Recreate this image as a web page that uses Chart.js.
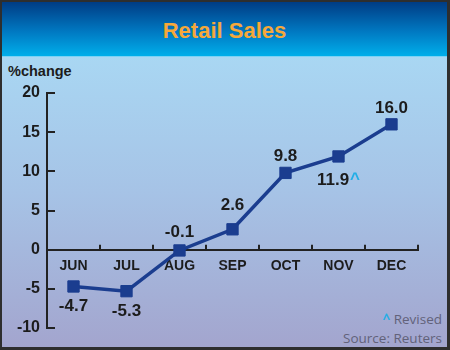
<!DOCTYPE html>
<html>
<head>
<meta charset="utf-8">
<script src="https://cdn.jsdelivr.net/npm/chart.js@4.4.1/dist/chart.umd.min.js"></script>
<style>
  html, body { margin: 0; padding: 0; }
  #card {
    position: relative; width: 450px; height: 350px; box-sizing: border-box;
    border: 2px solid #2e2e2e; border-bottom-width: 3px; border-right-width: 3px;
    background: linear-gradient(#aadff8 0px, #a6c3e6 190px, #a3a5ce 345px);
    overflow: hidden;
  }
  #head {
    position: absolute; left: 0; top: 0; right: 0; height: 54px;
    background: linear-gradient(#003c84, #0079c2 55%, #00aeea);
    border-bottom: 1px solid #7cd2f4;
    font: bold 22px "Liberation Sans", Arial, sans-serif; color: #f6a83a;
    text-align: center; line-height: 58px;
  }
  #unit {
    position: absolute; left: 6px; top: 61px;
    font: bold 14.5px "Liberation Sans", Arial, sans-serif; color: #1c1c1c;
  }
  #note {
    position: absolute; right: 5px; top: 308px; text-align: right;
    font: 13.5px "Open Sans", "DejaVu Sans", sans-serif; color: #62627a; line-height: 19px;
  }
  #note span { color: #22aee6; font-weight: bold; }
  canvas { position: absolute; left: -2px; top: -2px; }
</style>
</head>
<body>
<div id="card">
  <div id="head">Retail Sales</div>
  <div id="unit">%change</div>
  <div id="note"><span>^</span> Revised<br>Source: Reuters</div>
  <canvas id="chart" width="450" height="350"></canvas>
</div>
<script>
// data
const months = ['JUN', 'JUL', 'AUG', 'SEP', 'OCT', 'NOV', 'DEC'];
const changePct = [-4.7, -5.3, -0.1, 2.6, 9.8, 11.9, 16.0];
const yTicks = [-10, -5, 0, 5, 10, 15, 20];
const revisedMonth = 'NOV';

// label placement: px from marker centre to label centre (negative = above)
const labelShift = [20, 20, -18, -24, -17, 24, -16];

const ink = '#1c1c1c';
const lineBlue = '#1b3d8f';

// small inner ticks on both axes
const axisTicks = {
    id: 'axisTicks',
    beforeDatasetsDraw(chart) {
        const { ctx, scales: { x, y } } = chart;
        const y0 = y.getPixelForValue(0);
        ctx.save();
        ctx.strokeStyle = '#222';
        ctx.lineWidth = 2;
        ctx.beginPath();
        yTicks.forEach(v => {
            if (v === 0) return;
            const py = Math.round(y.getPixelForValue(v));
            ctx.moveTo(x.left, py);
            ctx.lineTo(x.left + 8, py);
        });
        const step = x.width / months.length;
        for (let i = 1; i <= months.length; i++) {
            const px = Math.round(x.left + i * step);
            ctx.moveTo(px, y0 + 1);
            ctx.lineTo(px, y0 - 5);
        }
        ctx.stroke();
        ctx.restore();
    }
};

// value labels next to each marker
const valueLabels = {
    id: 'valueLabels',
    afterDatasetsDraw(chart) {
        const { ctx } = chart;
        const pts = chart.getDatasetMeta(0).data;
        ctx.save();
        ctx.font = 'bold 17px "Liberation Sans", Arial, sans-serif';
        ctx.textBaseline = 'middle';
        pts.forEach((p, i) => {
            const txt = changePct[i].toFixed(1);
            const ty = p.y + labelShift[i];
            if (months[i] === revisedMonth) {
                const w = ctx.measureText(txt).width;
                const cw = ctx.measureText('^').width;
                const left = p.x - (w + cw + 1) / 2;
                ctx.textAlign = 'left';
                ctx.fillStyle = ink;
                ctx.fillText(txt, left, ty);
                ctx.fillStyle = '#22aee6';
                ctx.fillText('^', left + w + 1, ty - 1);
            } else {
                ctx.textAlign = 'center';
                ctx.fillStyle = ink;
                ctx.fillText(txt, p.x, ty);
            }
        });
        ctx.restore();
    }
};

new Chart(document.getElementById('chart'), {
    type: 'line',
    data: {
        labels: months,
        datasets: [{
            data: changePct,
            borderColor: lineBlue,
            backgroundColor: lineBlue,
            borderWidth: 3.5,
            pointStyle: 'rect',
            pointRadius: 8,
            pointBorderWidth: 1,
            tension: 0
        }]
    },
    options: {
        responsive: false,
        animation: false,
        layout: { padding: { left: 0, top: 93, right: 32, bottom: 22 } },
        plugins: { legend: { display: false }, tooltip: { enabled: false } },
        scales: {
            x: {
                type: 'category',
                offset: true,
                position: { y: 0 },
                afterFit: s => { s.height = 0; },
                grid: { display: false, drawTicks: false },
                border: { display: true, color: '#222', width: 2 },
                ticks: {
                    padding: 8,
                    color: ink,
                    font: { family: '"Liberation Sans", Arial, sans-serif', size: 14, weight: 'bold' }
                }
            },
            y: {
                min: -10,
                max: 20,
                afterFit: s => { s.width = 47; },
                afterBuildTicks: s => { s.ticks = yTicks.map(v => ({ value: v })); },
                grid: { drawOnChartArea: false, drawTicks: false },
                border: { display: true, color: '#222', width: 2 },
                ticks: {
                    padding: 7,
                    color: ink,
                    font: { family: '"Liberation Sans", Arial, sans-serif', size: 16, weight: 'bold' }
                }
            }
        }
    },
    plugins: [axisTicks, valueLabels]
});
</script>
</body>
</html>
